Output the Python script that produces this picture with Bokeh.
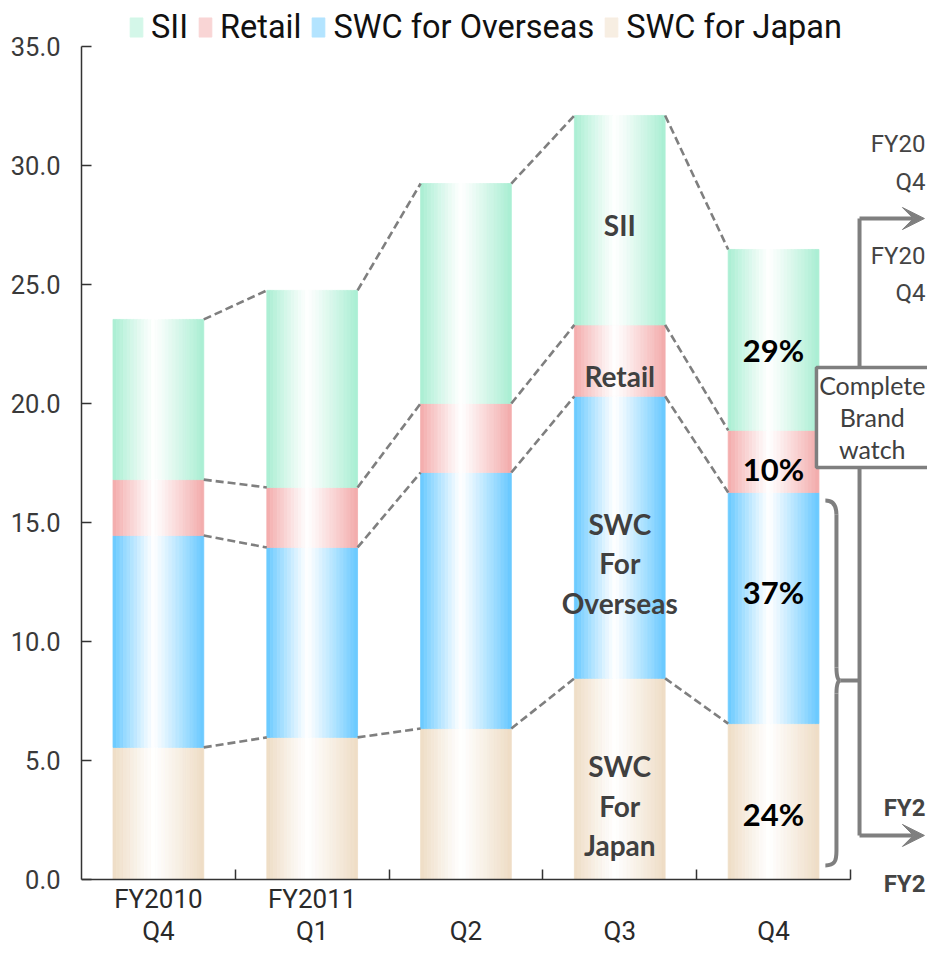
import numpy as np
from bokeh.plotting import figure
from bokeh.models import (Range1d, LinearAxis, FixedTicker, NumeralTickFormatter,
                          ColumnDataSource, Legend, LegendItem, Label, Arrow, VeeHead)
from bokeh.core.properties import value
from bokeh.embed import file_html
from bokeh.resources import INLINE

# ---------------- data ----------------
fy_labels = ["FY2010", "FY2011", "", "", ""]
q_labels = ["Q4", "Q1", "Q2", "Q3", "Q4"]
swc_japan = [5.55, 5.97, 6.34, 8.45, 6.55]
swc_overseas = [8.90, 7.98, 10.76, 11.85, 9.71]
retail = [2.35, 2.52, 2.90, 3.00, 2.61]
sii = [6.73, 8.28, 9.24, 8.80, 7.60]
y_ticks = [0, 5, 10, 15, 20, 25, 30, 35]
q3_names = ["SWC\nFor\nJapan", "SWC\nFor\nOverseas", "Retail", "SII"]
q4_shares = ["24%", "37%", "10%", "29%"]

# ---------------- styles ----------------
series = [  # bottom -> top
    ("SWC for Japan", swc_japan, (238, 220, 196)),
    ("SWC for Overseas", swc_overseas, (102, 200, 255)),
    ("Retail", retail, (243, 170, 170)),
    ("SII", sii, (168, 238, 210)),
]
GRAY = "#7f7f7f"
TXT = "#404040"
N_STRIPS = 26
BAR_W = 0.59

n = len(q_labels)
centers = np.arange(n) + 0.5

p = figure(width=927, height=948, output_backend="svg", toolbar_location=None,
           x_range=Range1d(0, 5.501), y_range=Range1d(-2.90, 36.93),
           x_axis_location=None, y_axis_location=None,
           min_border_left=81, min_border_right=0, min_border_top=0, min_border_bottom=0)
p.outline_line_color = None
p.background_fill_color = "white"
p.border_fill_color = "white"
for g in p.grid:
    g.visible = False


def strip_color(rgb, u):
    c = 0.45
    t = (c - u) / c if u < c else (u - c) / (1 - c)
    t = min(1.0, max(0.0, t)) ** 1.1
    r = [int(round(255 + (ch - 255) * t)) for ch in rgb]
    return "#%02x%02x%02x" % tuple(r)


bottoms = np.zeros(n)
renderers = {}
tops_list = []
for name, vals, rgb in series:
    vals = np.asarray(vals, dtype=float)
    tops = bottoms + vals
    xs, bs, ts, cs = [], [], [], []
    for k in range(N_STRIPS):
        u = (k + 0.5) / N_STRIPS
        col = strip_color(rgb, u)
        for i in range(n):
            xs.append(centers[i] - BAR_W / 2 + u * BAR_W)
            bs.append(bottoms[i])
            ts.append(tops[i])
            cs.append(col)
    src = ColumnDataSource(dict(x=xs, bottom=bs, top=ts, color=cs))
    r = p.vbar(x="x", bottom="bottom", top="top", width=BAR_W / N_STRIPS, source=src,
               fill_color="color", line_color="color", line_width=0.8)
    renderers[name] = r
    tops_list.append(tops)
    bottoms = tops

# dashed connectors between stack levels
for tops in tops_list:
    p.segment(x0=centers[:-1] + BAR_W / 2, y0=tops[:-1], x1=centers[1:] - BAR_W / 2, y1=tops[1:],
              line_color=GRAY, line_width=2.6, line_dash="8 4")

# segment labels in Q3 bar and shares in Q4 bar
stack_bottoms = [np.zeros(n)] + tops_list[:-1]
mids = [(b + t) / 2 for b, t in zip(stack_bottoms, tops_list)]
q3_nudge = [27, 26, 15, 5]
q4_nudge = [12, -16, 8, 10]
p.text(x=[centers[3]] * 4, y=[m[3] for m in mids], text=q3_names, y_offset=q3_nudge,
       text_font=value("Lato"), text_font_style="bold", text_font_size="28px",
       text_color=TXT, text_align="center", text_baseline="middle", text_line_height=1.16)
p.text(x=[centers[4]] * 4, y=[m[4] for m in mids], text=q4_shares, y_offset=q4_nudge,
       text_font=value("Lato"), text_font_style="bold", text_font_size="31px",
       text_color="black", text_align="center", text_baseline="middle")

# ---------------- axes ----------------
yaxis = LinearAxis(ticker=FixedTicker(ticks=y_ticks), formatter=NumeralTickFormatter(format="0.0"),
                   bounds=(0, 35), axis_line_color="#333333", axis_line_width=1.5,
                   major_tick_in=10, major_tick_out=0, major_tick_line_color="#333333",
                   major_tick_line_width=1.5, minor_tick_line_color=None,
                   minor_tick_in=0, minor_tick_out=0,
                   major_label_standoff=21, major_label_text_font="Roboto",
                   major_label_text_font_size="25.5px", major_label_text_color="#3a3a3a")
p.add_layout(yaxis, "left")

xaxis = LinearAxis(ticker=FixedTicker(ticks=list(centers), minor_ticks=list(np.arange(1, n + 1))),
                   fixed_location=0, bounds=(0, n),
                   axis_line_color="#333333", axis_line_width=1.5,
                   major_tick_in=0, major_tick_out=0, major_tick_line_color=None,
                   minor_tick_in=10, minor_tick_out=0, minor_tick_line_color="#333333",
                   minor_tick_line_width=1.5,
                   major_label_overrides={float(c): l for c, l in zip(centers, fy_labels)},
                   major_label_standoff=5, major_label_text_font="Roboto",
                   major_label_text_font_size="26px", major_label_text_color="#2a2a2a")
p.add_layout(xaxis, "below")
qaxis = LinearAxis(ticker=FixedTicker(ticks=list(centers)), fixed_location=0,
                   axis_line_color=None, major_tick_line_color=None, minor_tick_line_color=None,
                   major_tick_in=0, major_tick_out=0, minor_tick_in=0, minor_tick_out=0,
                   major_label_overrides={float(c): l for c, l in zip(centers, q_labels)},
                   major_label_standoff=37, major_label_text_font="Roboto",
                   major_label_text_font_size="26px", major_label_text_color="#2a2a2a")
p.add_layout(qaxis, "below")

# ---------------- legend ----------------
legend = Legend(items=[LegendItem(label=nm, renderers=[renderers[nm]], index=5 * n)
                       for nm in ["SII", "Retail", "SWC for Overseas", "SWC for Japan"]],
                location=(47, 902), orientation="horizontal",
                border_line_color=None, background_fill_alpha=0,
                label_text_font="Roboto", label_text_font_size="32.5px", label_text_color="#111111",
                glyph_width=16, glyph_height=24, label_height=24, label_standoff=7,
                spacing=9, padding=0, margin=0)
p.add_layout(legend)

# ---------------- right-hand annotations ----------------
vx = 5.059
x_tip = 5.481
p.segment(x0=[vx], y0=[27.77], x1=[vx], y1=[1.85], line_color=GRAY, line_width=4)
p.add_layout(Arrow(end=VeeHead(size=22, fill_color=GRAY, line_color=GRAY, line_width=1),
                   x_start=vx, y_start=27.77, x_end=x_tip, y_end=27.77,
                   line_color=GRAY, line_width=4))
p.add_layout(Arrow(end=VeeHead(size=22, fill_color=GRAY, line_color=GRAY, line_width=1),
                   x_start=vx, y_start=1.85, x_end=x_tip, y_end=1.85,
                   line_color=GRAY, line_width=4))

# curly brace
bx0, bx1, btip = 4.837, 4.909, 4.935
yhi, ylo, ymid = 15.92, 0.59, 8.36
p.bezier(x0=[bx0, bx1, btip, bx1], y0=[yhi, ymid + 0.55, ymid, 1.2],
         x1=[bx1, btip, bx1, bx0], y1=[yhi - 0.6, ymid, ymid - 0.55, ylo],
         cx0=[4.895, bx1, 4.92, bx1], cy0=[yhi, ymid + 0.15, ymid, 0.75],
         cx1=[bx1, 4.92, bx1, 4.895], cy1=[yhi - 0.3, ymid, ymid - 0.15, ylo],
         line_color=GRAY, line_width=4)
p.segment(x0=[bx1, bx1, btip], y0=[yhi - 0.6, ymid - 0.55, ymid],
          x1=[bx1, bx1, vx], y1=[ymid + 0.55, 1.2, ymid], line_color=GRAY, line_width=4)

# box
p.quad(left=[4.779], right=[5.9], bottom=[17.31], top=[21.51], fill_color="white",
       line_color=GRAY, line_width=3.5)
p.text(x=[5.142], y=[19.43], text=["Complete\nBrand\nwatch"], text_font=value("Lato"),
       text_font_size="25px", text_color=TXT, text_align="center", text_baseline="middle",
       text_line_height=1.06)

x_right = 5.488
for txt, y, bold in [("FY20", 30.9, False), ("Q4", 29.3, False),
                     ("FY20", 26.2, False), ("Q4", 24.65, False),
                     ("FY2", 2.99, True), ("FY2", -0.17, True)]:
    p.add_layout(Label(x=x_right, y=y, text=txt, text_font="Roboto", text_font_size="24px",
                       text_font_style="bold" if bold else "normal", text_color="#444444",
                       text_align="right", text_baseline="middle"))

open("out.html", "w").write(file_html(p, INLINE))
